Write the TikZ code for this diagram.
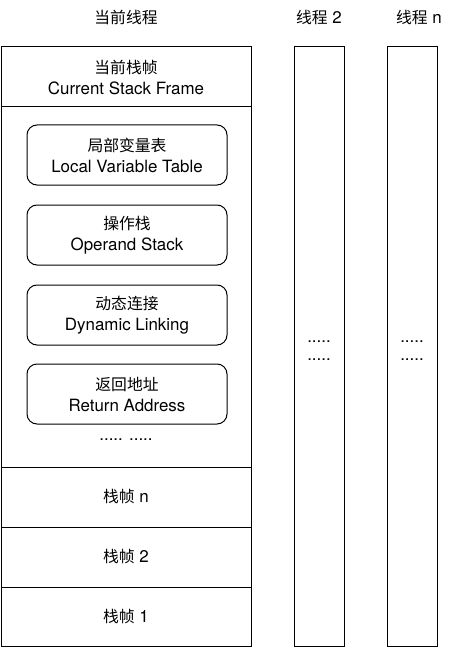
\documentclass[tikz,border=0pt]{standalone}
\usepackage{fontspec}
\setmainfont{TeX Gyre Heros}[Scale=1.07]
\newfontfamily\cjk{Noto Sans CJK SC}
\newcommand{\zh}[1]{{\cjk #1}}

\begin{document}
\begin{tikzpicture}[x=1pt,y=-1pt,line width=1pt,
	font=\fontsize{15.8}{21}\selectfont,
	row/.style={draw, minimum width=250pt, inner sep=0pt, align=center},
	part/.style={draw, rounded corners=10pt, minimum width=200pt,
		minimum height=60pt, inner sep=0pt, align=center},
	thread/.style={draw, minimum width=50pt, minimum height=599pt, inner sep=0pt}]
\useasboundingbox (0,0) rectangle (464,647);
%========================================
% LEFT: current thread with its stack
%========================================
\begin{scope}
	\node (curtitle) at (126,17) {\zh{当前线程}};
	% Current frame on top
	\node[row, minimum height=60pt] (curframe) at (126,77)
	{\zh{当前栈帧}\\Current Stack Frame};
	% Body of the current frame
	\node[row, minimum height=360pt] (body) at (126,287) {};
	\node[part] (locals) at (127,155) {\zh{局部变量表}\\Local Variable Table};
	\node[part] (operand) at (127,235) {\zh{操作栈}\\Operand Stack};
	\node[part] (linking) at (127,315) {\zh{动态连接}\\Dynamic Linking};
	\node[part] (retaddr) at (127,394) {\zh{返回地址}\\Return Address};
	\node (moredots) at (126,440) {..... .....};
	% Older frames
	\node[row, minimum height=60pt] (framen) at (126,497) {\zh{栈帧} n};
	\node[row, minimum height=60pt] (frametwo) at (126,557) {\zh{栈帧} 2};
	\node[row, minimum height=59pt] (frameone) at (126,616.5) {\zh{栈帧} 1};
\end{scope}
%========================================
% RIGHT: other threads
%========================================
\begin{scope}
	\node (twotitle) at (319,17) {\zh{线程} 2};
	\node[thread] (threadtwo) at (319,346.5) {};
	\node (twodots) at (319,342) {.....};
	\node (twodotsb) at (319,360) {.....};
	
	\node (ntitle) at (419,17) {\zh{线程} n};
	\node[thread] (threadn) at (412,346.5) {};
	\node (ndots) at (412,342) {.....};
	\node (ndotsb) at (412,360) {.....};
\end{scope}
\end{tikzpicture}
\end{document}
